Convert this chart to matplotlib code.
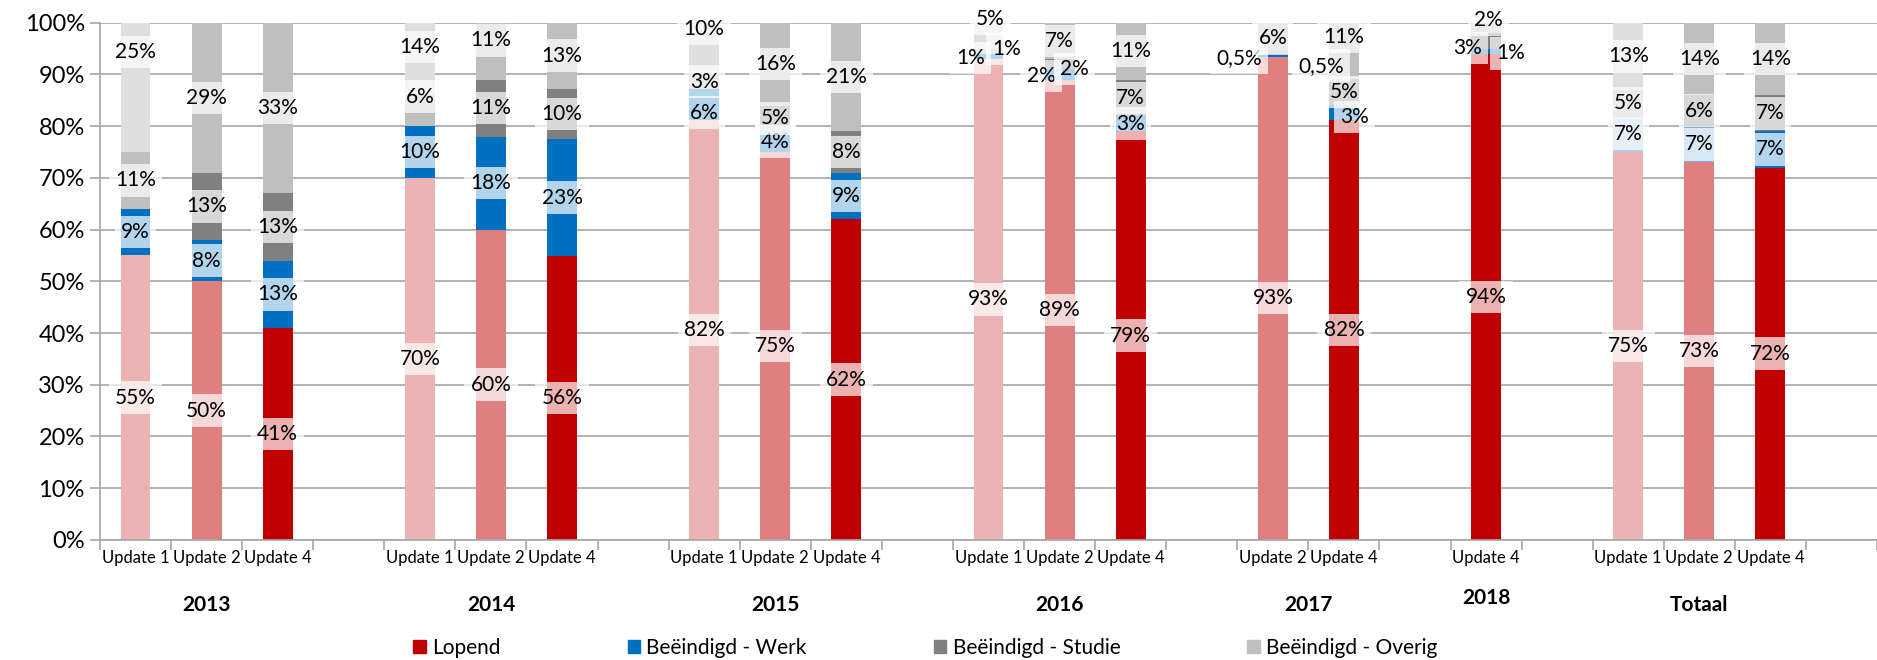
import matplotlib
matplotlib.use('Agg')
from matplotlib import pyplot as plt
from matplotlib.patches import Patch

plt.rcParams['font.family'] = ['Lato', 'DejaVu Sans']

# Data
groups = ['2013', '2014', '2015', '2016', '2017', '2018', 'Totaal']
updates = [['Update 1', 'Update 2', 'Update 4'],
           ['Update 1', 'Update 2', 'Update 4'],
           ['Update 1', 'Update 2', 'Update 4'],
           ['Update 1', 'Update 2', 'Update 4'],
           ['Update 2', 'Update 4'],
           ['Update 4'],
           ['Update 1', 'Update 2', 'Update 4']]
series = ['Lopend', 'Beëindigd - Werk', 'Beëindigd - Studie', 'Beëindigd - Overig']
lopend = [55, 50, 41, 70, 60, 56, 82, 75, 62, 93, 89, 79, 93, 82, 94, 75, 73, 72]
werk = [9, 8, 13, 10, 18, 23, 6, 4, 9, 1, 2, 3, 0.5, 3, 1, 7, 7, 7]
studie = [11, 13, 13, 6, 11, 10, 3, 5, 8, 1, 2, 7, 0, 5, 3, 5, 6, 7]
overig = [25, 29, 33, 14, 11, 13, 10, 16, 21, 5, 7, 11, 6, 11, 2, 13, 14, 14]
extra_labels = [('0,5%', 13)]   # loose text label on 2017 Update 4

# Styles
legend_colors = ['#C00000', '#0070C0', '#808080', '#BFBFBF']
shade = {
    'Lopend': {'Update 1': '#EBB3B3', 'Update 2': '#DF7F7F', 'Update 4': '#C00000'},
    'Beëindigd - Werk': {'Update 1': '#0070C0', 'Update 2': '#0070C0', 'Update 4': '#0070C0'},
    'Beëindigd - Studie': {'Update 1': '#BFBFBF', 'Update 2': '#808080', 'Update 4': '#808080'},
    'Beëindigd - Overig': {'Update 1': '#DFDFDF', 'Update 2': '#BFBFBF', 'Update 4': '#BFBFBF'},
}
totaal_werk = {'Update 1': '#B2D0EB', 'Update 2': '#83ACDA', 'Update 4': '#0070C0'}

# labels that were dragged away from the segment centre: (bar, series) -> (dx in slots, y in %)
label_moves = {
    (0, 3): (0, 94.3), (3, 2): (0, 85.7), (3, 3): (0, 95.3), (4, 3): (0, 96.6),
    (6, 1): (0, 82.6), (6, 3): (0, 98.8),
    (9, 1): (-0.25, 93.2), (9, 2): (0.25, 94.9), (9, 3): (0.03, 100.7),
    (10, 1): (-0.26, 89.7), (10, 2): (0.21, 91.1),
    (12, 1): (-0.48, 93.2),
    (13, 1): (0.15, 81.8), (13, 3): (0, 97.2),
    (14, 1): (0.34, 94.1), (14, 2): (-0.26, 95.1), (14, 3): (0.03, 100.5),
}
extra_pos = {13: (-0.32, 91.7)}


def fmt(v):
    if v == int(v):
        return '%d%%' % v
    return ('%g%%' % v).replace('.', ',')


# slot positions: one empty slot between groups
xpos, bar_upd, bar_grp, group_centers = [], [], [], []
slot = 0
for gi, ups in enumerate(updates):
    start = slot
    for u in ups:
        xpos.append(slot)
        bar_upd.append(u)
        bar_grp.append(groups[gi])
        slot += 1
    group_centers.append((start + slot - 1) / 2)
    slot += 1
nslots = slot - 1

fig = plt.figure(figsize=(18.77, 6.6), dpi=100)
ax = fig.add_axes([100 / 1877, 0.182, 1 - 100 / 1877, 0.7835])

values = [lopend, werk, studie, overig]
box = dict(boxstyle='square,pad=0.3', fc='white', ec='none', alpha=0.7)
bw = 0.42
for i, x in enumerate(xpos):
    vals = [s[i] for s in values]
    tot = sum(vals)
    bottom = 0
    for si, name in enumerate(series):
        h = vals[si] / tot * 100
        if bar_grp[i] == 'Totaal' and si == 1:
            col = totaal_werk[bar_upd[i]]
        else:
            col = shade[name][bar_upd[i]]
        if h > 0:
            ax.bar(x, h, bw, bottom=bottom, color=col, zorder=2)
            dx, y = label_moves.get((i, si), (0, bottom + h / 2))
            ax.text(x + dx, y, fmt(vals[si]), ha='center', va='center', fontsize=15,
                    bbox=box, zorder=4)
        bottom += h

for txt, i in extra_labels:
    dx, y = extra_pos[i]
    ax.text(xpos[i] + dx, y, txt, ha='center', va='center', fontsize=15, bbox=box, zorder=4)

ax.set_xlim(-0.5, nslots + 0.5)
ax.set_ylim(0, 100)
ax.set_yticks(range(0, 101, 10))
ax.set_yticklabels(['%d%%' % v for v in range(0, 101, 10)], fontsize=17)
ax.set_xticks([k - 0.5 for k in range(nslots + 2)])
ax.set_xticklabels([])
ax.tick_params(axis='both', direction='out', length=7, color='#A6A6A6', width=1.2)
ax.tick_params(axis='y', pad=4)
ax.yaxis.grid(True, color='#A6A6A6', lw=1.2)
ax.set_axisbelow(True)
for s in ['top', 'right']:
    ax.spines[s].set_visible(False)
for s in ['left', 'bottom']:
    ax.spines[s].set_color('#A6A6A6')
    ax.spines[s].set_linewidth(1.2)

tr = ax.get_xaxis_transform()
for i, x in enumerate(xpos):
    ax.text(x, -0.035, bar_upd[i], transform=tr, ha='center', va='center', fontsize=12)
for gi, g in enumerate(groups):
    yy = -0.112 if g == '2018' else -0.126
    ax.text(group_centers[gi], yy, g, transform=tr, ha='center', va='center',
            fontsize=15, fontweight='bold')

handles = [Patch(color=c, label=n) for c, n in zip(legend_colors, series)]
fig.legend(handles=handles, loc='center', bbox_to_anchor=(0.493, 0.018), ncol=4,
           frameon=False, fontsize=15, handlelength=0.6, handleheight=0.6,
           handletextpad=0.3, columnspacing=6.1)

fig.savefig('out.png', dpi=100)
